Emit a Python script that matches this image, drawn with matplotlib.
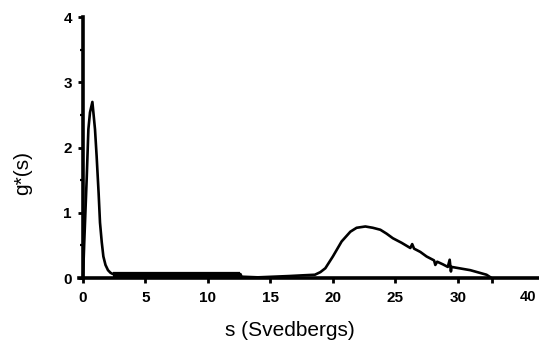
import matplotlib
matplotlib.use("Agg")
import matplotlib.pyplot as plt

# Data
curve_s = [0.0, 0.1, 0.3, 0.43, 0.56, 0.75, 0.96, 1.09, 1.25, 1.36, 1.5, 1.63, 1.8, 2.0, 2.2, 2.4,
           4.0, 6.0, 8.0, 10.0, 12.6, 12.7, 14.0, 16.5, 17.5, 18.56, 19.0, 19.4, 20.0, 20.7, 21.4,
           21.9, 22.6, 23.2, 23.8, 24.3, 24.8, 25.5, 26.2, 26.35, 26.5, 27.0, 27.5, 28.1, 28.2,
           28.35, 28.8, 29.2, 29.35, 29.45, 29.5, 31.0, 32.3, 32.7]
curve_g = [0.0, 0.55, 1.55, 2.28, 2.54, 2.70, 2.28, 1.87, 1.3, 0.85, 0.55, 0.33, 0.2, 0.12, 0.08, 0.06,
           0.05, 0.06, 0.07, 0.06, 0.06, 0.02, 0.01, 0.03, 0.04, 0.05, 0.09, 0.15, 0.33, 0.56, 0.71,
           0.77, 0.79, 0.77, 0.74, 0.68, 0.61, 0.54, 0.46, 0.52, 0.45, 0.40, 0.33, 0.27, 0.20,
           0.25, 0.21, 0.17, 0.28, 0.10, 0.17, 0.12, 0.05, 0.0]

band_s = [2.4, 12.6]
band_g = [0.045, 0.045]

x_ticks = [0, 5, 10, 15, 20, 25, 30, 32.7]
x_tick_labels = ["0", "5", "10", "15", "20", "25", "30", ""]
y_ticks = [0, 1, 2, 3, 4]
y_tick_labels = ["0", "1", "2", "3", "4"]

fig = plt.figure(figsize=(5.39, 3.43), dpi=100)
ax = fig.add_axes([0.154, 0.1895, 0.846, 0.7605])

ax.plot(curve_s, curve_g, color="black", lw=1.9, solid_joinstyle="round", clip_on=False)
ax.plot(band_s, band_g, color="black", lw=4.5, solid_capstyle="butt")

ax.set_xlim(0, 36.5)
ax.set_ylim(0, 4)

for side in ["top", "right"]:
    ax.spines[side].set_visible(False)
ax.spines["left"].set_linewidth(2.6)
ax.spines["bottom"].set_linewidth(2.6)
ax.spines["bottom"].set_bounds(-0.3, 36.5)

ax.set_xticks(x_ticks)
ax.set_xticklabels(x_tick_labels, fontfamily="Liberation Sans", fontweight="bold", fontsize=11)
ax.set_yticks(y_ticks)
ax.set_yticklabels(y_tick_labels, fontfamily="Liberation Sans", fontweight="bold", fontsize=11)
ax.set_yticks([0.5, 1.5, 2.5, 3.5], minor=True)
ax.tick_params(axis="x", which="major", direction="out", length=3.5, width=2.0, pad=6)
ax.tick_params(axis="y", which="major", direction="out", length=3.5, width=2.0, pad=4.5)
ax.tick_params(axis="y", which="minor", direction="out", length=2, width=1.6)

ax.text(35.6, -0.185, "40", ha="center", va="top", fontfamily="Liberation Sans",
        fontweight="bold", fontsize=10.5, transform=ax.transData, clip_on=False)

fig.text(290 / 539, 1 - 330 / 343, "s (Svedbergs)", ha="center", va="center",
         fontfamily="Liberation Sans", fontsize=15)
fig.text(23 / 539, 1 - 173 / 343, "g*(s)", ha="center", va="center", rotation=90,
         fontfamily="Liberation Sans", fontsize=15)

fig.savefig("out.png", dpi=100)
